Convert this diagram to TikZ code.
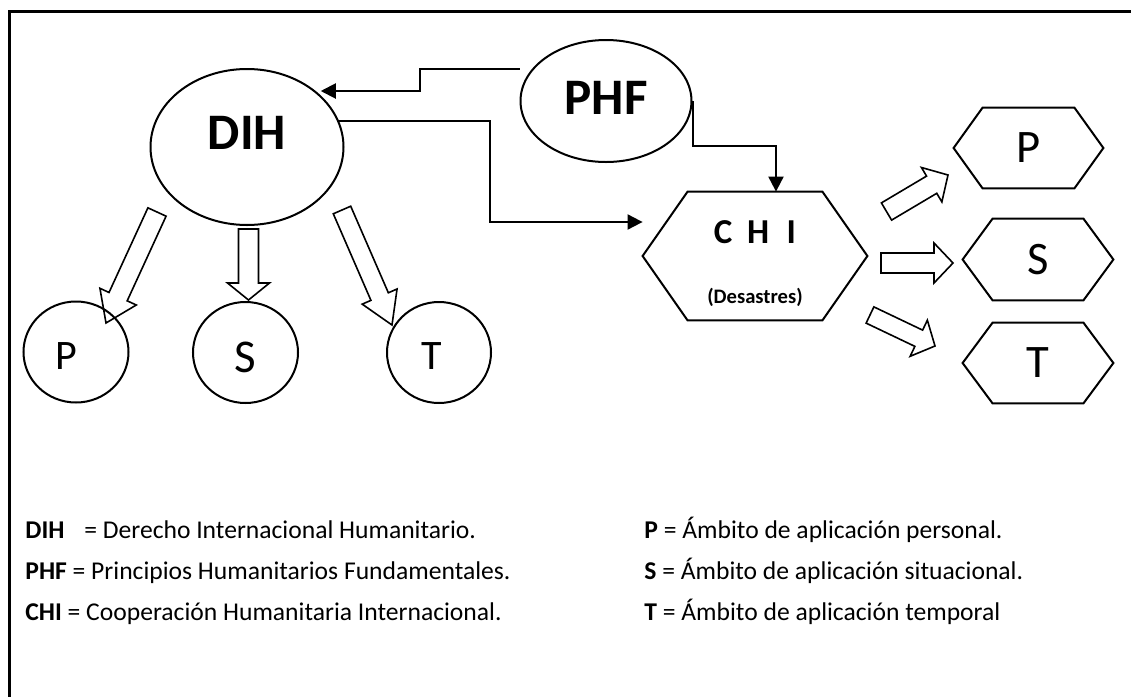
\documentclass[tikz,border=0pt]{standalone}
\usepackage{fontspec}
\setmainfont{Carlito}
\usetikzlibrary{arrows.meta,calc,shapes.geometric}

\tikzset{
  shp/.style={draw, line width=1pt, inner sep=0pt},
  ell/.style={shp, ellipse},
  hexbox/.style={inner sep=0pt, draw=none},
  hexline/.style={line width=1pt, line join=miter},
  conn/.style={line width=1pt, -{Triangle[length=7.5pt,width=7.5pt]}},
  blk/.style={line width=0.8pt, line join=miter},
  big/.style={font=\fontsize{25.6pt}{30pt}\selectfont\bfseries},
  circtxt/.style={font=\fontsize{21pt}{25pt}\selectfont},
  hextxt/.style={font=\fontsize{23.3pt}{27pt}\selectfont},
  leg/.style={anchor=base west, inner sep=0pt, font=\fontsize{12.8pt}{15pt}\selectfont},
}

\newcommand\hexa[2]{%
  \draw[hexline] ($(#1.north west)+(#2,0)$) -- ($(#1.north east)+(-#2,0)$) -- (#1.east)
    -- ($(#1.south east)+(-#2,0)$) -- ($(#1.south west)+(#2,0)$) -- (#1.west) -- cycle;}

\newcommand\barrow[5]{%
  \path (#1) coordinate (ba-a) (#2) coordinate (ba-b);
  \coordinate (ba-h) at ($(ba-b)!#5!(ba-a)$);
  \draw[blk] ($(ba-a)!#3!90:(ba-b)$) -- ($(ba-h)!#3!90:(ba-b)$) -- ($(ba-h)!#4!90:(ba-b)$)
    -- (ba-b) -- ($(ba-h)!#4!-90:(ba-b)$) -- ($(ba-h)!#3!-90:(ba-b)$)
    -- ($(ba-a)!#3!-90:(ba-b)$) -- cycle;}

\begin{document}
\begin{tikzpicture}[x=0.5pt,y=-0.5pt]
\useasboundingbox (0,0) rectangle (1132,697);
% frame
\draw[line width=1.5pt] (9,720) -- (9,11) -- (1131,11);

% main nodes
\node[ell, minimum width=96.5pt, minimum height=78pt,
      label={[big,yshift=7pt]center:DIH}] (dih) at (247,147) {};
\node[ell, minimum width=85.5pt, minimum height=61pt,
      label={[big,yshift=1.5pt]center:PHF}] (phf) at (606,101) {};
\node[hexbox, minimum width=112pt, minimum height=64pt,
      label={[font=\fontsize{17.5pt}{20pt}\selectfont\bfseries,yshift=12pt]center:C\hspace{0.42em}H\hspace{0.5em}I},
      label={[font=\fontsize{10.3pt}{12pt}\selectfont\bfseries,yshift=-20.5pt]center:(Desastres)}] (chi) at (755,256) {};
\hexa{chi}{45}

% circles
\node[shp, ellipse, minimum width=52.5pt, minimum height=50.5pt,
      label={[circtxt,xshift=-5pt,yshift=-2pt]center:P}] (cp) at (76,352) {};
\node[shp, ellipse, minimum width=52.5pt, minimum height=50.5pt,
      label={[font=\fontsize{23.5pt}{27pt}\selectfont,yshift=-2.5pt]center:S}] (cs) at (245.5,352.5) {};
\node[shp, ellipse, minimum width=52pt, minimum height=50.5pt,
      label={[circtxt,xshift=-3.5pt,yshift=-2pt]center:T}] (ct) at (439,352.5) {};

% hexagons right
\node[hexbox, minimum width=74.5pt, minimum height=40pt, hextxt] (hp) at (1028.5,148) {P};
\hexa{hp}{29}
\node[hexbox, minimum width=75pt, minimum height=40.5pt, hextxt] (hs) at (1038,259.5) {S};
\hexa{hs}{30}
\node[hexbox, minimum width=75pt, minimum height=40pt, hextxt] (ht) at (1038,363) {T};
\hexa{ht}{30}

% connectors
\coordinate (k0) at (0,69);
\coordinate (k1) at (420,91);
\draw[conn] (phf.west |- k0) -| (k1) -- (k1 -| dih.35);
\coordinate (k2) at (490,222);
\draw[conn] (dih.16) -| (k2) -- (k2 -| chi.west);
\coordinate (k3) at (776,146);
\draw[conn] (phf.east) |- (k3) -- (k3 |- chi.north);

% block arrows from DIH
\barrow{157,212}{106,323}{5pt}{10pt}{14.5pt}
\barrow{248.5,229}{248.5,300}{5pt}{10.5pt}{8.5pt}
\barrow{342,210}{392,325}{4.75pt}{9.5pt}{15.5pt}
% block arrows from CHI
\barrow{886.5,211.5}{948,175}{5pt}{10pt}{9.5pt}
\barrow{881,263}{953,263}{5pt}{10pt}{9.5pt}
\barrow{870,315}{935,346}{4.5pt}{10pt}{9pt}

% legend
\node[leg] (l1) at (25,538) {\textbf{DIH}\hspace{0.55em} = Derecho Internacional Humanitario.};
\node[leg] (l2) at (25,579) {\textbf{PHF} = Principios Humanitarios Fundamentales.};
\node[leg] (l3) at (25,620) {\textbf{CHI} = Cooperación Humanitaria Internacional.};
\node[leg] (r1) at (644,538) {\textbf{P} = Ámbito de aplicación personal.};
\node[leg] (r2) at (644,579) {\textbf{S} = Ámbito de aplicación situacional.};
\node[leg] (r3) at (644,620) {\textbf{T} = Ámbito de aplicación temporal};
\end{tikzpicture}
\end{document}
